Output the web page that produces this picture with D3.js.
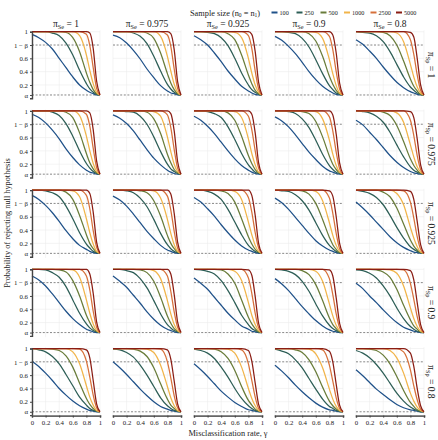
<!DOCTYPE html>
<html><head><meta charset="utf-8">
<script src="https://cdn.jsdelivr.net/npm/d3@7"></script>
<style>body{margin:0;background:#fff}svg text{font-family:"Liberation Serif","DejaVu Serif",serif;fill:#222}</style>
</head><body><svg id="c" width="438" height="440"></svg>
<script>
// x grid (misclassification rate)
const gamma=[0,.1,.2,.3,.4,.5,.6,.7,.8,.85,.9,.95,1];
const sampleSizes=["100","250","500","1000","2500","5000"];
const seLabels=["1","0.975","0.925","0.9","0.8"];
const spLabels=["1","0.975","0.925","0.9","0.8"];
const yTickVals=[0.05,0.2,0.4,0.6,0.8,1];
const yTickLabels=["α","0.2","0.4","0.6","1 − β","1"];
const xTickVals=[0,0.2,0.4,0.6,0.8,1];
const xTickLabels=["0","0.2","0.4","0.6","0.8","1"];
const alphaLevel=0.05, powerLevel=0.8;

// power per panel (row = π_Sp, col = π_Se), series = sample sizes
const p_r1c1=[[.96,.91,.84,.74,.60,.46,.32,.20,.12,.09,.07,.05,.05],[1,1,1,.98,.94,.83,.65,.42,.22,.14,.09,.06,.05],[1,1,1,1,1,.99,.91,.70,.38,.24,.13,.07,.05],[1,1,1,1,1,1,1,.94,.65,.42,.22,.09,.05],[1,1,1,1,1,1,1,1,.96,.79,.46,.15,.05],[1,1,1,1,1,1,1,1,1,.98,.75,.26,.05]];
const p_r1c2=[[.95,.91,.83,.72,.59,.44,.31,.19,.11,.08,.07,.05,.05],[1,1,1,.98,.93,.82,.63,.41,.21,.14,.09,.06,.05],[1,1,1,1,1,.98,.90,.68,.37,.23,.13,.07,.05],[1,1,1,1,1,1,1,.93,.63,.41,.21,.09,.05],[1,1,1,1,1,1,1,1,.95,.78,.44,.15,.05],[1,1,1,1,1,1,1,1,1,.97,.73,.25,.05]];
const p_r1c3=[[.94,.88,.80,.68,.55,.41,.29,.18,.11,.08,.06,.05,.05],[1,1,.99,.97,.91,.79,.60,.38,.20,.13,.09,.06,.05],[1,1,1,1,1,.97,.88,.65,.35,.22,.12,.07,.05],[1,1,1,1,1,1,.99,.91,.60,.38,.20,.09,.05],[1,1,1,1,1,1,1,1,.94,.75,.41,.14,.05],[1,1,1,1,1,1,1,1,1,.96,.70,.24,.05]];
const p_r1c4=[[.93,.87,.78,.67,.54,.40,.28,.18,.11,.08,.06,.05,.05],[1,1,.99,.97,.90,.77,.58,.37,.19,.13,.08,.06,.05],[1,1,1,1,1,.97,.86,.63,.33,.21,.12,.07,.05],[1,1,1,1,1,1,.99,.90,.58,.37,.19,.08,.05],[1,1,1,1,1,1,1,1,.93,.73,.40,.14,.05],[1,1,1,1,1,1,1,1,1,.95,.68,.23,.05]];
const p_r1c5=[[.88,.81,.71,.60,.47,.35,.24,.16,.10,.08,.06,.05,.05],[1,.99,.98,.94,.85,.70,.51,.32,.17,.12,.08,.06,.05],[1,1,1,1,.99,.94,.80,.56,.29,.18,.11,.06,.05],[1,1,1,1,1,1,.98,.85,.51,.32,.17,.08,.05],[1,1,1,1,1,1,1,1,.88,.66,.35,.12,.05],[1,1,1,1,1,1,1,1,.99,.92,.60,.20,.05]];
const p_r2c1=[[.95,.90,.82,.71,.58,.43,.30,.19,.11,.08,.07,.05,.05],[1,1,1,.98,.93,.81,.62,.40,.21,.14,.09,.06,.05],[1,1,1,1,1,.98,.90,.67,.36,.22,.13,.07,.05],[1,1,1,1,1,1,1,.93,.62,.40,.21,.09,.05],[1,1,1,1,1,1,1,1,.95,.77,.44,.15,.05],[1,1,1,1,1,1,1,1,1,.97,.72,.25,.05]];
const p_r2c2=[[.94,.89,.81,.70,.56,.42,.29,.19,.11,.08,.06,.05,.05],[1,1,.99,.98,.92,.80,.61,.39,.20,.13,.09,.06,.05],[1,1,1,1,1,.98,.88,.66,.35,.22,.12,.07,.05],[1,1,1,1,1,1,.99,.92,.61,.39,.20,.09,.05],[1,1,1,1,1,1,1,1,.94,.75,.42,.14,.05],[1,1,1,1,1,1,1,1,1,.96,.70,.24,.05]];
const p_r2c3=[[.92,.86,.77,.66,.53,.40,.28,.18,.11,.08,.06,.05,.05],[1,1,.99,.96,.90,.76,.57,.36,.19,.13,.08,.06,.05],[1,1,1,1,1,.97,.86,.62,.33,.21,.12,.07,.05],[1,1,1,1,1,1,.99,.90,.58,.36,.19,.08,.05],[1,1,1,1,1,1,1,1,.92,.72,.40,.14,.05],[1,1,1,1,1,1,1,1,1,.95,.67,.22,.05]];
const p_r2c4=[[.91,.85,.76,.64,.51,.38,.27,.17,.10,.08,.06,.05,.05],[1,1,.99,.96,.88,.75,.56,.35,.18,.12,.08,.06,.05],[1,1,1,1,.99,.96,.84,.61,.32,.20,.12,.07,.05],[1,1,1,1,1,1,.99,.88,.56,.35,.18,.08,.05],[1,1,1,1,1,1,1,1,.91,.70,.38,.13,.05],[1,1,1,1,1,1,1,1,1,.94,.65,.22,.05]];
const p_r2c5=[[.86,.79,.68,.57,.45,.33,.23,.15,.09,.07,.06,.05,.05],[1,.99,.97,.92,.83,.68,.49,.31,.16,.11,.08,.06,.05],[1,1,1,1,.98,.93,.78,.54,.28,.18,.11,.06,.05],[1,1,1,1,1,1,.97,.83,.49,.31,.16,.08,.05],[1,1,1,1,1,1,1,1,.86,.63,.33,.12,.05],[1,1,1,1,1,1,1,1,.99,.90,.58,.19,.05]];
const p_r3c1=[[.92,.86,.77,.66,.53,.39,.27,.17,.11,.08,.06,.05,.05],[1,1,.99,.96,.90,.76,.57,.36,.19,.13,.08,.06,.05],[1,1,1,1,1,.97,.86,.62,.33,.20,.12,.07,.05],[1,1,1,1,1,1,.99,.90,.57,.36,.19,.08,.05],[1,1,1,1,1,1,1,1,.92,.72,.39,.14,.05],[1,1,1,1,1,1,1,1,1,.95,.67,.22,.05]];
const p_r3c2=[[.91,.85,.76,.64,.51,.38,.27,.17,.10,.08,.06,.05,.05],[1,1,.99,.96,.88,.75,.56,.35,.18,.12,.08,.06,.05],[1,1,1,1,.99,.96,.84,.61,.32,.20,.12,.07,.05],[1,1,1,1,1,1,.99,.88,.56,.35,.18,.08,.05],[1,1,1,1,1,1,1,1,.91,.70,.38,.13,.05],[1,1,1,1,1,1,1,1,1,.94,.65,.22,.05]];
const p_r3c3=[[.89,.82,.72,.61,.48,.36,.25,.16,.10,.08,.06,.05,.05],[1,1,.98,.94,.86,.71,.52,.33,.17,.12,.08,.06,.05],[1,1,1,1,.99,.95,.82,.57,.30,.19,.11,.07,.05],[1,1,1,1,1,1,.98,.86,.52,.33,.17,.08,.05],[1,1,1,1,1,1,1,1,.89,.67,.36,.13,.05],[1,1,1,1,1,1,1,1,1,.92,.62,.20,.05]];
const p_r3c4=[[.88,.81,.71,.59,.47,.35,.24,.16,.10,.08,.06,.05,.05],[1,.99,.98,.93,.84,.70,.51,.32,.17,.12,.08,.06,.05],[1,1,1,1,.99,.94,.80,.56,.29,.18,.11,.06,.05],[1,1,1,1,1,1,.98,.84,.51,.32,.17,.08,.05],[1,1,1,1,1,1,1,1,.88,.65,.35,.12,.05],[1,1,1,1,1,1,1,1,.99,.91,.60,.20,.05]];
const p_r3c5=[[.82,.73,.63,.52,.41,.30,.21,.14,.09,.07,.06,.05,.05],[1,.98,.95,.89,.78,.62,.44,.28,.15,.11,.08,.06,.05],[1,1,1,1,.97,.90,.73,.49,.25,.16,.10,.06,.05],[1,1,1,1,1,1,.95,.78,.44,.28,.15,.07,.05],[1,1,1,1,1,1,1,.99,.82,.58,.30,.11,.05],[1,1,1,1,1,1,1,1,.98,.86,.53,.18,.05]];
const p_r4c1=[[.90,.84,.75,.63,.50,.37,.26,.17,.10,.08,.06,.05,.05],[1,1,.99,.95,.88,.74,.54,.34,.18,.12,.08,.06,.05],[1,1,1,1,.99,.96,.83,.60,.31,.20,.11,.07,.05],[1,1,1,1,1,1,.99,.88,.54,.34,.18,.08,.05],[1,1,1,1,1,1,1,1,.90,.69,.37,.13,.05],[1,1,1,1,1,1,1,1,1,.93,.64,.21,.05]];
const p_r4c2=[[.90,.82,.73,.61,.49,.36,.25,.16,.10,.08,.06,.05,.05],[1,1,.98,.95,.86,.72,.53,.33,.17,.12,.08,.06,.05],[1,1,1,1,.99,.95,.82,.58,.30,.19,.11,.07,.05],[1,1,1,1,1,1,.98,.86,.53,.33,.17,.08,.05],[1,1,1,1,1,1,1,1,.90,.67,.36,.13,.05],[1,1,1,1,1,1,1,1,1,.93,.62,.21,.05]];
const p_r4c3=[[.87,.79,.70,.58,.46,.34,.24,.15,.10,.07,.06,.05,.05],[1,.99,.97,.93,.83,.68,.50,.31,.17,.11,.08,.06,.05],[1,1,1,1,.99,.93,.79,.54,.28,.18,.11,.06,.05],[1,1,1,1,1,1,.97,.83,.50,.31,.17,.08,.05],[1,1,1,1,1,1,1,1,.87,.64,.34,.12,.05],[1,1,1,1,1,1,1,1,.99,.91,.59,.19,.05]];
const p_r4c4=[[.86,.78,.68,.56,.44,.33,.23,.15,.09,.07,.06,.05,.05],[1,.99,.97,.92,.82,.67,.48,.30,.16,.11,.08,.06,.05],[1,1,1,1,.98,.92,.77,.53,.27,.17,.11,.06,.05],[1,1,1,1,1,1,.97,.82,.48,.30,.16,.08,.05],[1,1,1,1,1,1,1,1,.86,.62,.33,.12,.05],[1,1,1,1,1,1,1,1,.99,.90,.57,.19,.05]];
const p_r4c5=[[.79,.71,.60,.50,.39,.29,.20,.13,.09,.07,.06,.05,.05],[.99,.98,.94,.87,.75,.60,.42,.26,.14,.10,.07,.06,.05],[1,1,1,.99,.96,.88,.70,.46,.24,.15,.10,.06,.05],[1,1,1,1,1,.99,.94,.75,.42,.26,.14,.07,.05],[1,1,1,1,1,1,1,.99,.79,.55,.29,.11,.05],[1,1,1,1,1,1,1,1,.98,.84,.50,.17,.05]];
const p_r5c1=[[.81,.73,.63,.52,.40,.30,.21,.14,.09,.07,.06,.05,.05],[1,.98,.95,.88,.77,.61,.44,.27,.15,.10,.07,.06,.05],[1,1,1,.99,.97,.89,.72,.48,.25,.16,.10,.06,.05],[1,1,1,1,1,1,.95,.77,.44,.27,.15,.07,.05],[1,1,1,1,1,1,1,.99,.81,.57,.30,.11,.05],[1,1,1,1,1,1,1,1,.98,.86,.52,.17,.05]];
const p_r5c2=[[.80,.71,.61,.50,.39,.29,.20,.13,.09,.07,.06,.05,.05],[.99,.98,.94,.87,.75,.60,.43,.26,.14,.10,.07,.06,.05],[1,1,1,.99,.96,.88,.71,.47,.24,.15,.10,.06,.05],[1,1,1,1,1,.99,.94,.75,.43,.26,.14,.07,.05],[1,1,1,1,1,1,1,.99,.80,.56,.29,.11,.05],[1,1,1,1,1,1,1,1,.98,.84,.51,.17,.05]];
const p_r5c3=[[.77,.68,.58,.47,.36,.27,.19,.13,.08,.07,.06,.05,.05],[.99,.97,.93,.85,.72,.57,.40,.25,.14,.10,.07,.06,.05],[1,1,1,.99,.95,.85,.67,.43,.22,.15,.09,.06,.05],[1,1,1,1,1,.99,.93,.72,.40,.25,.14,.07,.05],[1,1,1,1,1,1,1,.98,.77,.52,.27,.10,.05],[1,1,1,1,1,1,1,1,.97,.81,.48,.16,.05]];
const p_r5c4=[[.75,.66,.56,.45,.35,.26,.18,.12,.08,.07,.06,.05,.05],[.99,.96,.92,.83,.71,.55,.39,.24,.13,.10,.07,.06,.05],[1,1,1,.98,.94,.83,.65,.42,.21,.14,.09,.06,.05],[1,1,1,1,1,.99,.92,.71,.39,.24,.13,.07,.05],[1,1,1,1,1,1,1,.98,.75,.51,.26,.10,.05],[1,1,1,1,1,1,1,1,.96,.80,.46,.15,.05]];
const p_r5c5=[[.68,.59,.49,.39,.31,.23,.16,.11,.08,.07,.06,.05,.05],[.97,.93,.86,.76,.63,.48,.33,.21,.12,.09,.07,.05,.05],[1,1,.99,.97,.90,.77,.58,.37,.19,.13,.08,.06,.05],[1,1,1,1,1,.97,.86,.63,.33,.21,.12,.07,.05],[1,1,1,1,1,1,1,.95,.68,.44,.23,.09,.05],[1,1,1,1,1,1,1,1,.93,.73,.40,.14,.05]];

const panels=[
 [p_r1c1,p_r1c2,p_r1c3,p_r1c4,p_r1c5],
 [p_r2c1,p_r2c2,p_r2c3,p_r2c4,p_r2c5],
 [p_r3c1,p_r3c2,p_r3c3,p_r3c4,p_r3c5],
 [p_r4c1,p_r4c2,p_r4c3,p_r4c4,p_r4c5],
 [p_r5c1,p_r5c2,p_r5c3,p_r5c4,p_r5c5]];

const colors=["#1f5189","#2d5e56","#697c3a","#f1b44a","#d7703a","#8a1d14"];

const svg=d3.select("#c");
const left=32, colStep=81, panelW=68;
const top0=31.7, rowStep=79.2, panelH=66.6;
const font="'Liberation Serif','DejaVu Serif',serif";

// legend
const legTitle=svg.append("text").attr("x",190).attr("y",15.5).attr("font-size",8.3);
legTitle.append("tspan").text("Sample size (n");
legTitle.append("tspan").attr("font-size",5.5).attr("dy",1.5).text("0");
legTitle.append("tspan").attr("dy",-1.5).text(" = n");
legTitle.append("tspan").attr("font-size",5.5).attr("dy",1.5).text("1");
legTitle.append("tspan").attr("dy",-1.5).text(")");
const legX=[271.5,296.5,320.5,344,370.5,396];
sampleSizes.forEach((s,i)=>{
  svg.append("line").attr("x1",legX[i]).attr("x2",legX[i]+6).attr("y1",12.5).attr("y2",12.5)
    .attr("stroke",colors[i]).attr("stroke-width",2);
  svg.append("text").attr("x",legX[i]+8).attr("y",14.7).attr("font-size",6.2).text(s);
});

const line=d3.line().curve(d3.curveMonotoneX);

for(let r=0;r<5;r++){
  for(let c=0;c<5;c++){
    const x0=left+c*colStep, yt=top0+r*rowStep;
    const x=d3.scaleLinear().domain([0,1]).range([x0,x0+panelW]);
    const y=d3.scaleLinear().domain([0,1]).range([yt+panelH,yt]);
    const g=svg.append("g");
    g.selectAll(".gx").data(xTickVals).join("line")
      .attr("x1",d=>x(d)).attr("x2",d=>x(d)).attr("y1",y(-0.02)).attr("y2",y(1.02))
      .attr("stroke","#ececec").attr("stroke-width",0.6);
    g.selectAll(".gy").data([0.2,0.4,0.6,1]).join("line")
      .attr("x1",x(0)).attr("x2",x(1)).attr("y1",d=>y(d)).attr("y2",d=>y(d))
      .attr("stroke","#ececec").attr("stroke-width",0.6);
    [alphaLevel,powerLevel].forEach(v=>{
      g.append("line").attr("x1",x(0)).attr("x2",x(1)).attr("y1",y(v)).attr("y2",y(v))
        .attr("stroke","#555").attr("stroke-width",0.7).attr("stroke-dasharray","2,1.6");
    });
    panels[r][c].forEach((vals,i)=>{
      g.append("path").attr("d",line(vals.map((v,k)=>[x(gamma[k]),y(v)])))
        .attr("fill","none").attr("stroke",colors[i]).attr("stroke-width",1.25);
    });
    if(c===0){
      const ax=g.append("g").attr("transform",`translate(${x0},0)`)
        .call(d3.axisLeft(y).tickValues(yTickVals).tickFormat((d,k)=>yTickLabels[k]).tickSize(2).tickPadding(2));
      ax.select(".domain").attr("stroke","#444").attr("stroke-width",1.4);
      ax.selectAll(".tick line").attr("stroke","#444");
      ax.selectAll("text").attr("font-family",font).attr("font-size",6.8).attr("fill","#222");
    }
    if(r===4){
      const ax=g.append("g").attr("transform",`translate(0,${y(0)+0.5})`)
        .call(d3.axisBottom(x).tickValues(xTickVals).tickFormat((d,k)=>xTickLabels[k]).tickSize(2).tickPadding(2.5));
      ax.select(".domain").attr("stroke","#666").attr("stroke-width",1.8);
      ax.selectAll(".tick line").attr("stroke","#444");
      ax.selectAll("text").attr("font-family",font).attr("font-size",6.8).attr("fill","#222");
    }
    if(r===0){
      const t=svg.append("text").attr("x",x0+panelW/2).attr("y",27).attr("text-anchor","middle").attr("font-size",9.5);
      t.append("tspan").text("π");
      t.append("tspan").attr("font-size",6.3).attr("dy",1.8).text("Se");
      t.append("tspan").attr("dy",-1.8).text(" = "+seLabels[c]);
    }
    if(c===4){
      const cy=yt+panelH/2;
      const t=svg.append("text").attr("transform",`translate(428,${cy}) rotate(90)`).attr("text-anchor","middle").attr("font-size",9.5);
      t.append("tspan").text("π");
      t.append("tspan").attr("font-size",6.3).attr("dy",1.8).text("Sp");
      t.append("tspan").attr("dy",-1.8).text(" = "+spLabels[r]);
    }
  }
}
svg.append("text").attr("x",228).attr("y",436).attr("text-anchor","middle").attr("font-size",8.3).text("Misclassification rate, γ");
svg.append("text").attr("transform",`translate(10,223) rotate(-90)`).attr("text-anchor","middle").attr("font-size",8.3).text("Probability of rejecting null hypothesis");
</script></body></html>
